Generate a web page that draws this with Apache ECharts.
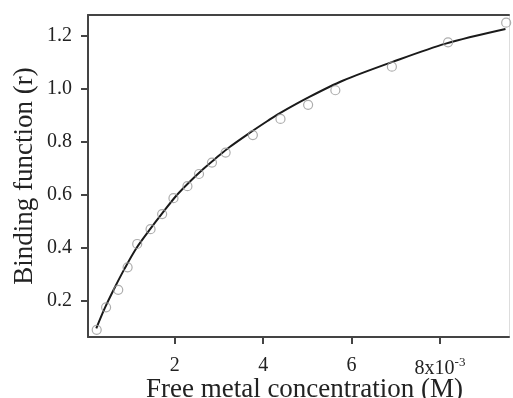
<!DOCTYPE html>
<html>
<head>
<meta charset="utf-8">
<script src="https://cdn.jsdelivr.net/npm/echarts@6/dist/echarts.min.js"></script>
<style>html,body{margin:0;padding:0;background:#fff}#c{width:513px;height:398px}</style>
</head>
<body>
<div id="c"></div>
<script>
// measured points (x in units of 10^-3 M)
const pointX = [0.234, 0.446, 0.721, 0.933, 1.15, 1.452, 1.714, 1.97, 2.286, 2.548, 2.841, 3.15, 3.766, 4.391, 5.016, 5.632, 6.911, 8.181, 9.496];
const pointY = [0.091, 0.176, 0.242, 0.327, 0.415, 0.471, 0.528, 0.588, 0.633, 0.679, 0.722, 0.760, 0.826, 0.887, 0.940, 0.995, 1.084, 1.176, 1.25];
// fitted curve
const fitX = [0.225, 0.414, 0.640, 0.865, 1.127, 1.429, 1.736, 2.038, 2.338, 2.638, 2.941, 3.241, 3.692, 4.105, 4.369, 5.045, 5.797, 6.925, 8.129, 9.48];
const fitY = [0.097, 0.172, 0.250, 0.322, 0.398, 0.468, 0.535, 0.598, 0.650, 0.697, 0.740, 0.781, 0.834, 0.880, 0.908, 0.970, 1.031, 1.102, 1.171, 1.226];
const xTicks = [2, 4, 6, 8];
const yTicks = [0.2, 0.4, 0.6, 0.8, 1.0, 1.2];

const chart = echarts.init(document.getElementById('c'));
const font = 'Liberation Serif';
const axisCol = '#444';
const txt = '#222';
chart.setOption({
  animation: false,
  grid: { left: 88, top: 15, right: 4, bottom: 61, containLabel: false, outerBoundsMode: 'none' },
  xAxis: [{
    type: 'value', min: 0.037, max: 9.56,
    name: 'Free metal concentration (M)', nameLocation: 'middle', nameGap: 39, nameMoveOverlap: false,
    nameTextStyle: { fontFamily: font, fontSize: 27, color: txt, padding: [0, 0, 0, 12] },
    axisLine: { show: true, lineStyle: { color: axisCol, width: 2 } },
    axisTick: { show: true, inside: false, length: 7, customValues: xTicks, lineStyle: { color: axisCol, width: 2 } },
    axisLabel: {
      customValues: xTicks, margin: 19, fontFamily: font, fontSize: 20, color: txt,
      formatter: v => v === 8 ? '{n|8x10}{s|-3}' : String(v),
      rich: { n: { fontFamily: font, fontSize: 20, color: txt }, s: { fontFamily: font, fontSize: 13, color: txt, verticalAlign: 'top', padding: [0, 0, 12, 0] } }
    },
    splitLine: { show: false }
  }, {
    type: 'value', position: 'top', min: 0.037, max: 9.56,
    axisLine: { show: true, onZero: false, lineStyle: { color: axisCol, width: 2 } },
    axisTick: { show: false }, axisLabel: { show: false }, splitLine: { show: false }
  }],
  yAxis: [{
    type: 'value', min: 0.064, max: 1.279,
    name: 'Binding function (r)', nameLocation: 'middle', nameGap: 50, nameRotate: 90, nameMoveOverlap: false,
    nameTextStyle: { fontFamily: font, fontSize: 27, color: txt },
    axisLine: { show: true, lineStyle: { color: axisCol, width: 2 } },
    axisTick: { show: true, inside: false, length: 7, customValues: yTicks, lineStyle: { color: axisCol, width: 2 } },
    axisLabel: { customValues: yTicks, margin: 16, fontFamily: font, fontSize: 20, color: txt, formatter: v => v.toFixed(1) },
    splitLine: { show: false }
  }, {
    type: 'value', position: 'right', min: 0.064, max: 1.279,
    axisLine: { show: true, onZero: false, lineStyle: { color: '#ddd', width: 1 } },
    axisTick: { show: false }, axisLabel: { show: false }, splitLine: { show: false }
  }],
  series: [{
    type: 'line', data: fitX.map((x, i) => [x, fitY[i]]), smooth: 0.3,
    showSymbol: false, lineStyle: { color: '#1a1a1a', width: 2 }, z: 2
  }, {
    type: 'scatter', data: pointX.map((x, i) => [x, pointY[i]]),
    symbol: 'circle', symbolSize: 9,
    itemStyle: { color: 'rgba(255,255,255,0)', borderColor: '#999', borderWidth: 1.2 }, z: 3
  }]
});
</script>
</body>
</html>
